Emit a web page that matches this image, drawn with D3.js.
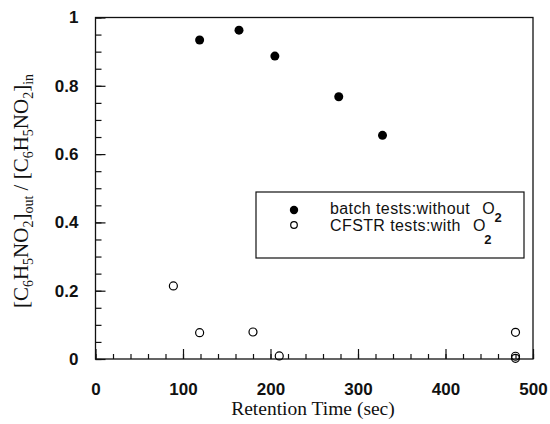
<!DOCTYPE html>
<html>
<head>
<meta charset="utf-8">
<script src="https://cdn.jsdelivr.net/npm/d3@7"></script>
<style>
  body { margin: 0; background: #fff; }
  .tick text { font-family: "Liberation Sans", Arial, sans-serif; font-weight: bold; font-size: 17px; fill: #111; }
  .title { font-family: "Liberation Serif", "Times New Roman", serif; fill: #111; }
  .leg { font-family: "Liberation Sans", Arial, sans-serif; font-size: 16px; fill: #111; }
</style>
</head>
<body>
<div id="chart"></div>
<script>
var w = 550;
var h = 424;

// data
var batchTime = [119, 164, 205, 278, 328];
var batchRatio = [0.934, 0.963, 0.887, 0.768, 0.655];
var cfstrTime = [89, 119, 180, 210, 480, 480, 480];
var cfstrRatio = [0.214, 0.077, 0.079, 0.009, 0.078, 0.008, 0.002];
var xTicks = [0, 100, 200, 300, 400, 500];
var yTicks = [0, 0.2, 0.4, 0.6, 0.8, 1];

var margin = {left: 95.5, right: 17, top: 17.5, bottom: 65};

var xScale = d3.scaleLinear()
    .domain([0, 500])
    .range([margin.left, w - margin.right]);

var yScale = d3.scaleLinear()
    .domain([0, 1])
    .range([h - margin.bottom, margin.top]);

var svg = d3.select("#chart")
    .append("svg")
    .attr("width", w)
    .attr("height", h);

// frame
svg.append("rect")
    .attr("x", xScale(0))
    .attr("y", yScale(1))
    .attr("width", xScale(500) - xScale(0))
    .attr("height", yScale(0) - yScale(1))
    .attr("fill", "none")
    .attr("stroke", "#111")
    .attr("stroke-width", 1.3);

// minor ticks
svg.append("g")
    .attr("transform", "translate(0," + yScale(0) + ")")
    .call(d3.axisBottom(xScale).tickValues(d3.range(0, 501, 20)).tickSize(-5).tickFormat(""))
    .call(function(g) { g.select(".domain").remove(); });

svg.append("g")
    .attr("transform", "translate(" + xScale(0) + ",0)")
    .call(d3.axisLeft(yScale).tickValues(d3.range(0, 1.001, 0.05)).tickSize(-6).tickFormat(""))
    .call(function(g) { g.select(".domain").remove(); });

// major ticks + labels
var xAxis = svg.append("g")
    .attr("transform", "translate(0," + yScale(0) + ")")
    .call(d3.axisBottom(xScale).tickValues(xTicks).tickSize(-10).tickPadding(24).tickFormat(d3.format("d")));
xAxis.select(".domain").remove();

var yAxis = svg.append("g")
    .attr("transform", "translate(" + xScale(0) + ",0)")
    .call(d3.axisLeft(yScale).tickValues(yTicks).tickSize(-10).tickPadding(17).tickFormat(function(d) { return d === 0 || d === 1 ? d : d3.format(".1f")(d); }));
yAxis.select(".domain").remove();

svg.selectAll(".tick line").attr("stroke", "#111").attr("stroke-width", 1.2);

// axis titles
svg.append("text")
    .attr("class", "title")
    .attr("x", 313)
    .attr("y", 415)
    .attr("text-anchor", "middle")
    .attr("font-size", 19.5)
    .text("Retention Time (sec)");

var yt = svg.append("text")
    .attr("class", "title")
    .attr("transform", "translate(33,191) rotate(-90)")
    .attr("text-anchor", "middle")
    .attr("font-size", 21);
var parts = [["[C", "6"], ["H", "5"], ["NO", "2"], ["]", "out"], [" / [C", "6"], ["H", "5"], ["NO", "2"], ["]", "in"]];
parts.forEach(function(p) {
    yt.append("tspan").attr("dy", yt.selectAll("tspan").size() ? -5 : 0).text(p[0]);
    yt.append("tspan").attr("font-size", 14).attr("dy", 5).text(p[1]);
});

// points
svg.selectAll("circle.batch")
    .data(d3.zip(batchTime, batchRatio))
    .enter()
    .append("circle")
    .attr("class", "batch")
    .attr("cx", function(d) { return xScale(d[0]); })
    .attr("cy", function(d) { return yScale(d[1]); })
    .attr("r", 4.5)
    .attr("fill", "#000");

svg.selectAll("circle.cfstr")
    .data(d3.zip(cfstrTime, cfstrRatio))
    .enter()
    .append("circle")
    .attr("class", "cfstr")
    .attr("cx", function(d) { return xScale(d[0]); })
    .attr("cy", function(d) { return yScale(d[1]); })
    .attr("r", 4)
    .attr("fill", "none")
    .attr("stroke", "#000")
    .attr("stroke-width", 1.2);

// legend
var leg = svg.append("g");
leg.append("rect")
    .attr("x", 256)
    .attr("y", 192)
    .attr("width", 268)
    .attr("height", 66)
    .attr("fill", "#fff")
    .attr("stroke", "#111")
    .attr("stroke-width", 1.2);
leg.append("circle").attr("cx", 294).attr("cy", 210).attr("r", 4.2).attr("fill", "#000");
leg.append("circle").attr("cx", 294).attr("cy", 225).attr("r", 3.3).attr("fill", "none").attr("stroke", "#000").attr("stroke-width", 1.2);

var l1 = leg.append("text").attr("class", "leg").attr("x", 330).attr("y", 214);
l1.append("tspan").attr("letter-spacing", 0.4).text("batch tests:without");
l1.append("tspan").attr("dx", 12).text("O");
l1.append("tspan").attr("font-size", 13).attr("font-weight", "bold").attr("dy", 8).text("2");

var l2 = leg.append("text").attr("class", "leg").attr("x", 330).attr("y", 231);
l2.append("tspan").attr("letter-spacing", 0.4).text("CFSTR tests:with");
l2.append("tspan").attr("dx", 12).text("O");
l2.append("tspan").attr("font-size", 13).attr("font-weight", "bold").attr("dy", 13).attr("dx", -1).text("2");
</script>
</body>
</html>
